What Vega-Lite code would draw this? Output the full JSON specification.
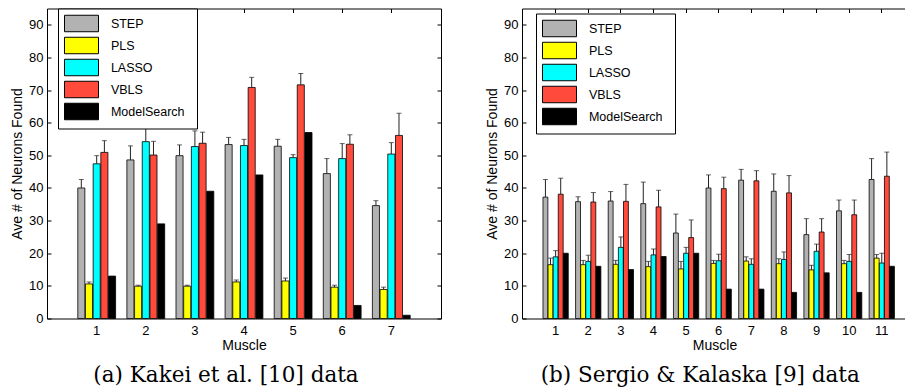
{
  "$schema": "https://vega.github.io/schema/vega-lite/v6.json",
  "padding": {"left": 10, "top": 7.5, "right": 0, "bottom": 0},
  "background": "white",
  "resolve": {"scale": {"color": "independent", "xOffset": "independent", "x": "independent", "y": "independent"}, "legend": {"color": "independent"}},
  "config": {
    "font": "Liberation Sans",
    "view": {"stroke": null},
    "concat": {"spacing": 43},
    "axis": {
      "domainColor": "black", "tickColor": "black", "labelColor": "black", "titleColor": "black",
      "labelFont": "Liberation Sans", "labelFontSize": 13, "titleFont": "Liberation Sans", "titleFontSize": 14,
      "titleFontWeight": "normal", "tickSize": -4, "grid": false, "domainWidth": 1, "tickWidth": 1
    },
    "legend": {
      "title": null, "strokeColor": "black", "fillColor": "white", "padding": 6,
      "symbolType": "M-2,-0.97H2V0.97H-2ZM12.6,0", "symbolSize": 289, "symbolOffset": 8.5, "symbolStrokeColor": "black", "symbolStrokeWidth": 1, "symbolOpacity": 1,
      "labelFont": "Liberation Sans", "labelFontSize": 12.5, "labelColor": "black", "labelOffset": 20.4, "rowPadding": 0
    },
    "title": {"font": "DejaVu Serif", "fontSize": 21.5, "fontWeight": "normal", "color": "black"}
  },
  "datasets": {
    "a": [
      {"muscle": "1", "method": "STEP", "value": 40.0, "top": 42.6},
      {"muscle": "1", "method": "PLS", "value": 10.6, "top": 11.2},
      {"muscle": "1", "method": "LASSO", "value": 47.4, "top": 49.9},
      {"muscle": "1", "method": "VBLS", "value": 50.9, "top": 54.5},
      {"muscle": "1", "method": "ModelSearch", "value": 13},
      {"muscle": "2", "method": "STEP", "value": 48.6, "top": 52.9},
      {"muscle": "2", "method": "PLS", "value": 9.9, "top": 10.2},
      {"muscle": "2", "method": "LASSO", "value": 54.2, "top": 59.6},
      {"muscle": "2", "method": "VBLS", "value": 50.1, "top": 54.3},
      {"muscle": "2", "method": "ModelSearch", "value": 29},
      {"muscle": "3", "method": "STEP", "value": 49.9, "top": 53.2},
      {"muscle": "3", "method": "PLS", "value": 9.9, "top": 10.2},
      {"muscle": "3", "method": "LASSO", "value": 52.7, "top": 57.5},
      {"muscle": "3", "method": "VBLS", "value": 53.7, "top": 57.1},
      {"muscle": "3", "method": "ModelSearch", "value": 39},
      {"muscle": "4", "method": "STEP", "value": 53.3, "top": 55.5},
      {"muscle": "4", "method": "PLS", "value": 11.2, "top": 11.8},
      {"muscle": "4", "method": "LASSO", "value": 53.0, "top": 54.9},
      {"muscle": "4", "method": "VBLS", "value": 70.8, "top": 73.9},
      {"muscle": "4", "method": "ModelSearch", "value": 44},
      {"muscle": "5", "method": "STEP", "value": 52.8, "top": 54.9},
      {"muscle": "5", "method": "PLS", "value": 11.5, "top": 12.4},
      {"muscle": "5", "method": "LASSO", "value": 49.3, "top": 50.2},
      {"muscle": "5", "method": "VBLS", "value": 71.6, "top": 75.1},
      {"muscle": "5", "method": "ModelSearch", "value": 57},
      {"muscle": "6", "method": "STEP", "value": 44.4, "top": 49.0},
      {"muscle": "6", "method": "PLS", "value": 9.6, "top": 10.2},
      {"muscle": "6", "method": "LASSO", "value": 49.0, "top": 53.6},
      {"muscle": "6", "method": "VBLS", "value": 53.4, "top": 56.3},
      {"muscle": "6", "method": "ModelSearch", "value": 4},
      {"muscle": "7", "method": "STEP", "value": 34.6, "top": 36.1},
      {"muscle": "7", "method": "PLS", "value": 8.9, "top": 9.6},
      {"muscle": "7", "method": "LASSO", "value": 50.4, "top": 53.9},
      {"muscle": "7", "method": "VBLS", "value": 56.1, "top": 62.9},
      {"muscle": "7", "method": "ModelSearch", "value": 1}
    ],
    "b": [
      {"muscle": "1", "method": "STEP", "value": 37.2, "top": 42.6},
      {"muscle": "1", "method": "PLS", "value": 16.5, "top": 18.5},
      {"muscle": "1", "method": "LASSO", "value": 18.9, "top": 20.8},
      {"muscle": "1", "method": "VBLS", "value": 38.1, "top": 43.0},
      {"muscle": "1", "method": "ModelSearch", "value": 20},
      {"muscle": "2", "method": "STEP", "value": 35.8, "top": 37.3},
      {"muscle": "2", "method": "PLS", "value": 16.5, "top": 17.8},
      {"muscle": "2", "method": "LASSO", "value": 17.5, "top": 19.4},
      {"muscle": "2", "method": "VBLS", "value": 35.7, "top": 38.6},
      {"muscle": "2", "method": "ModelSearch", "value": 16},
      {"muscle": "3", "method": "STEP", "value": 36.0, "top": 38.9},
      {"muscle": "3", "method": "PLS", "value": 16.6, "top": 17.8},
      {"muscle": "3", "method": "LASSO", "value": 21.8, "top": 25.0},
      {"muscle": "3", "method": "VBLS", "value": 35.9, "top": 41.1},
      {"muscle": "3", "method": "ModelSearch", "value": 15},
      {"muscle": "4", "method": "STEP", "value": 35.2, "top": 41.8},
      {"muscle": "4", "method": "PLS", "value": 15.9, "top": 17.5},
      {"muscle": "4", "method": "LASSO", "value": 19.5, "top": 21.3},
      {"muscle": "4", "method": "VBLS", "value": 34.2, "top": 39.3},
      {"muscle": "4", "method": "ModelSearch", "value": 19},
      {"muscle": "5", "method": "STEP", "value": 26.2, "top": 32.0},
      {"muscle": "5", "method": "PLS", "value": 15.2, "top": 17.5},
      {"muscle": "5", "method": "LASSO", "value": 20.0, "top": 21.8},
      {"muscle": "5", "method": "VBLS", "value": 24.8, "top": 30.2},
      {"muscle": "5", "method": "ModelSearch", "value": 20},
      {"muscle": "6", "method": "STEP", "value": 40.0, "top": 44.0},
      {"muscle": "6", "method": "PLS", "value": 16.9, "top": 17.8},
      {"muscle": "6", "method": "LASSO", "value": 17.7, "top": 19.7},
      {"muscle": "6", "method": "VBLS", "value": 39.8, "top": 43.3},
      {"muscle": "6", "method": "ModelSearch", "value": 9},
      {"muscle": "7", "method": "STEP", "value": 42.4, "top": 45.7},
      {"muscle": "7", "method": "PLS", "value": 17.6, "top": 18.9},
      {"muscle": "7", "method": "LASSO", "value": 16.6, "top": 18.3},
      {"muscle": "7", "method": "VBLS", "value": 42.2, "top": 45.3},
      {"muscle": "7", "method": "ModelSearch", "value": 9},
      {"muscle": "8", "method": "STEP", "value": 39.0, "top": 44.3},
      {"muscle": "8", "method": "PLS", "value": 16.8, "top": 18.3},
      {"muscle": "8", "method": "LASSO", "value": 18.1, "top": 20.4},
      {"muscle": "8", "method": "VBLS", "value": 38.5, "top": 43.8},
      {"muscle": "8", "method": "ModelSearch", "value": 8},
      {"muscle": "9", "method": "STEP", "value": 25.7, "top": 30.6},
      {"muscle": "9", "method": "PLS", "value": 14.9, "top": 16.3},
      {"muscle": "9", "method": "LASSO", "value": 20.6, "top": 22.8},
      {"muscle": "9", "method": "VBLS", "value": 26.5, "top": 30.6},
      {"muscle": "9", "method": "ModelSearch", "value": 14},
      {"muscle": "10", "method": "STEP", "value": 33.0, "top": 36.3},
      {"muscle": "10", "method": "PLS", "value": 16.8, "top": 17.8},
      {"muscle": "10", "method": "LASSO", "value": 17.5, "top": 19.6},
      {"muscle": "10", "method": "VBLS", "value": 31.8, "top": 36.3},
      {"muscle": "10", "method": "ModelSearch", "value": 8},
      {"muscle": "11", "method": "STEP", "value": 42.6, "top": 49.0},
      {"muscle": "11", "method": "PLS", "value": 18.5, "top": 19.6},
      {"muscle": "11", "method": "LASSO", "value": 17.0, "top": 20.0},
      {"muscle": "11", "method": "VBLS", "value": 43.6, "top": 51.0},
      {"muscle": "11", "method": "ModelSearch", "value": 16}
    ]
  },
  "hconcat": [
    {
      "data": {"name": "a"},
      "width": 394,
      "height": 310,
      "title": {"text": "(a) Kakei et al. [10] data", "orient": "bottom", "anchor": "middle", "frame": "bounds", "offset": 12},
      "resolve": {"axis": {"x": "independent", "y": "independent"}},
      "layer": [
        {
          "mark": {"type": "bar", "stroke": "black", "strokeWidth": 0.8},
          "encoding": {
            "x": {"field": "muscle", "type": "ordinal", "sort": ["1","2","3","4","5","6","7"],
                  "scale": {"domain": ["1","2","3","4","5","6","7"], "paddingInner": 0.23, "paddingOuter": 0.627},
                  "axis": {"orient": "bottom", "title": "Muscle", "labelAngle": 0, "labelPadding": 10, "titlePadding": 1}},
            "xOffset": {"field": "method", "type": "nominal", "scale": {"domain": ["STEP","PLS","LASSO","VBLS","ModelSearch"], "paddingInner": 0.08}},
            "y": {"field": "value", "type": "quantitative",
                  "scale": {"domain": [0, 95], "nice": false, "zero": true},
                  "axis": {"orient": "left", "title": "Ave # of Neurons Found", "values": [0,10,20,30,40,50,60,70,80,90], "labelPadding": 8, "titlePadding": 4}},
            "color": {"field": "method", "type": "nominal",
                      "scale": {"domain": ["STEP","PLS","LASSO","VBLS","ModelSearch"], "range": ["#b2b2b2","#ffff00","#00ffff","#ff4a3c","#000000"]},
                      "legend": {"orient": "none", "legendX": 11, "legendY": 0}}
          }
        },
        {
          "transform": [{"filter": "isValid(datum.top)"}],
          "mark": {"type": "rule", "color": "#222222", "strokeWidth": 1},
          "encoding": {
            "x": {"field": "muscle", "type": "ordinal", "sort": ["1","2","3","4","5","6","7"],
                  "scale": {"domain": ["1","2","3","4","5","6","7"], "paddingInner": 0.23, "paddingOuter": 0.627},
                  "axis": {"orient": "top", "title": null, "labels": false}},
            "xOffset": {"field": "method", "type": "nominal", "scale": {"domain": ["STEP","PLS","LASSO","VBLS","ModelSearch"], "paddingInner": 0.08}},
            "y": {"field": "value", "type": "quantitative", "scale": {"domain": [0, 95], "nice": false},
                  "axis": {"orient": "right", "title": null, "labels": false, "values": [0,10,20,30,40,50,60,70,80,90]}},
            "y2": {"field": "top"}
          }
        },
        {
          "transform": [{"filter": "isValid(datum.top)"}],
          "mark": {"type": "tick", "color": "#222222", "thickness": 1, "size": 5},
          "encoding": {
            "x": {"field": "muscle", "type": "ordinal", "sort": ["1","2","3","4","5","6","7"],
                  "scale": {"domain": ["1","2","3","4","5","6","7"], "paddingInner": 0.23, "paddingOuter": 0.627}, "axis": null},
            "xOffset": {"field": "method", "type": "nominal", "scale": {"domain": ["STEP","PLS","LASSO","VBLS","ModelSearch"], "paddingInner": 0.08}},
            "y": {"field": "top", "type": "quantitative", "scale": {"domain": [0, 95], "nice": false}, "axis": null}
          }
        }
      ]
    },
    {
      "data": {"name": "b"},
      "width": 385,
      "height": 310,
      "title": {"text": "(b) Sergio & Kalaska [9] data", "orient": "bottom", "anchor": "middle", "frame": "bounds", "offset": 12, "dx": 4},
      "resolve": {"axis": {"x": "independent", "y": "independent"}},
      "layer": [
        {
          "mark": {"type": "bar", "stroke": "black", "strokeWidth": 0.8},
          "encoding": {
            "x": {"field": "muscle", "type": "ordinal", "sort": ["1","2","3","4","5","6","7","8","9","10","11"],
                  "scale": {"domain": ["1","2","3","4","5","6","7","8","9","10","11"], "paddingInner": 0.225, "paddingOuter": 0.5145, "align": 0.625},
                  "axis": {"orient": "bottom", "title": "Muscle", "labelAngle": 0, "labelPadding": 10, "titlePadding": 1}},
            "xOffset": {"field": "method", "type": "nominal", "scale": {"domain": ["STEP","PLS","LASSO","VBLS","ModelSearch"], "paddingInner": 0.04}},
            "y": {"field": "value", "type": "quantitative",
                  "scale": {"domain": [0, 95], "nice": false, "zero": true},
                  "axis": {"orient": "left", "title": "Ave # of Neurons Found", "values": [0,10,20,30,40,50,60,70,80,90], "labelPadding": 8, "titlePadding": 4}},
            "color": {"field": "method", "type": "nominal",
                      "scale": {"domain": ["STEP","PLS","LASSO","VBLS","ModelSearch"], "range": ["#b2b2b2","#ffff00","#00ffff","#ff4a3c","#000000"]},
                      "legend": {"orient": "none", "legendX": 14, "legendY": 5}}
          }
        },
        {
          "transform": [{"filter": "isValid(datum.top)"}],
          "mark": {"type": "rule", "color": "#222222", "strokeWidth": 1},
          "encoding": {
            "x": {"field": "muscle", "type": "ordinal", "sort": ["1","2","3","4","5","6","7","8","9","10","11"],
                  "scale": {"domain": ["1","2","3","4","5","6","7","8","9","10","11"], "paddingInner": 0.225, "paddingOuter": 0.5145, "align": 0.625},
                  "axis": {"orient": "top", "title": null, "labels": false}},
            "xOffset": {"field": "method", "type": "nominal", "scale": {"domain": ["STEP","PLS","LASSO","VBLS","ModelSearch"], "paddingInner": 0.04}},
            "y": {"field": "value", "type": "quantitative", "scale": {"domain": [0, 95], "nice": false}, "axis": null},
            "y2": {"field": "top"}
          }
        },
        {
          "transform": [{"filter": "isValid(datum.top)"}],
          "mark": {"type": "tick", "color": "#222222", "thickness": 1, "size": 5},
          "encoding": {
            "x": {"field": "muscle", "type": "ordinal", "sort": ["1","2","3","4","5","6","7","8","9","10","11"],
                  "scale": {"domain": ["1","2","3","4","5","6","7","8","9","10","11"], "paddingInner": 0.225, "paddingOuter": 0.5145, "align": 0.625}, "axis": null},
            "xOffset": {"field": "method", "type": "nominal", "scale": {"domain": ["STEP","PLS","LASSO","VBLS","ModelSearch"], "paddingInner": 0.04}},
            "y": {"field": "top", "type": "quantitative", "scale": {"domain": [0, 95], "nice": false}, "axis": null}
          }
        }
      ]
    }
  ]
}
